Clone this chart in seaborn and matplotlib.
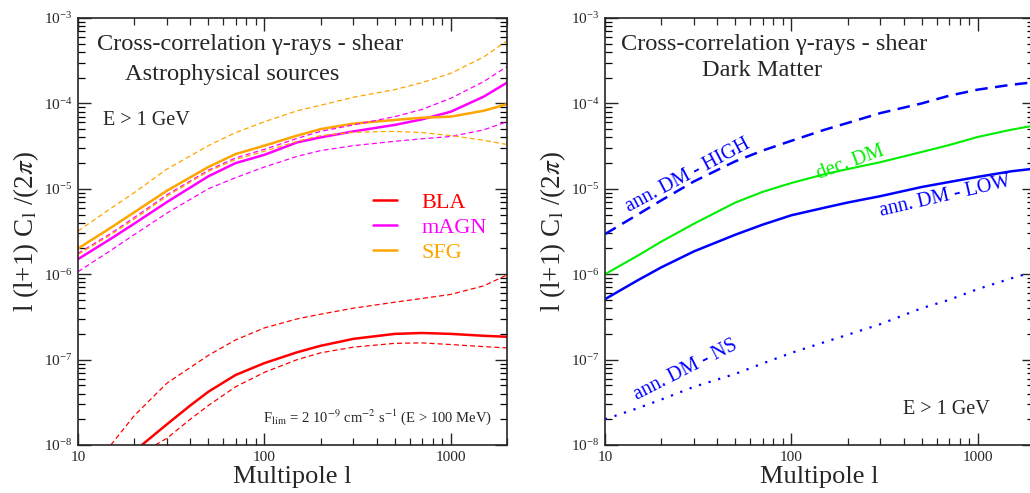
import numpy as np
import pandas as pd
import matplotlib
matplotlib.use("Agg")
import matplotlib.pyplot as plt
import matplotlib.ticker as mticker
import seaborn as sns

# multipoles used for most curves
ell = [10, 15, 20, 30, 50, 70, 100, 150, 200, 300, 500, 700, 1000, 1500, 2000]

# left panel: astrophysical sources (solid = best fit, dashed = band)
sfg = [2.0e-6, 3.5e-6, 5.3e-6, 9.5e-6, 1.8e-5, 2.55e-5, 3.2e-5, 4.2e-5, 5.0e-5, 5.8e-5, 6.4e-5, 6.8e-5, 7.0e-5, 8.2e-5, 9.8e-5]
sfg_hi = [3.2e-6, 5.9e-6, 9.0e-6, 1.7e-5, 3.2e-5, 4.55e-5, 6.1e-5, 8.2e-5, 9.5e-5, 1.18e-4, 1.45e-4, 1.75e-4, 2.25e-4, 3.5e-4, 5.4e-4]
sfg_lo = [1.7e-6, 2.9e-6, 4.4e-6, 8.2e-6, 1.6e-5, 2.2e-5, 2.75e-5, 3.6e-5, 4.2e-5, 4.6e-5, 4.7e-5, 4.55e-5, 4.2e-5, 3.7e-5, 3.3e-5]
magn = [1.5e-6, 2.6e-6, 3.9e-6, 7.0e-6, 1.4e-5, 2.0e-5, 2.5e-5, 3.5e-5, 4.0e-5, 4.7e-5, 5.6e-5, 6.5e-5, 8.0e-5, 1.2e-4, 1.75e-4]
magn_hi = [1.75e-6, 3.0e-6, 4.6e-6, 8.5e-6, 1.65e-5, 2.3e-5, 2.9e-5, 3.9e-5, 4.7e-5, 5.6e-5, 7.0e-5, 8.5e-5, 1.15e-4, 1.8e-4, 2.7e-4]
magn_lo = [1.07e-6, 1.9e-6, 2.9e-6, 5.2e-6, 1.0e-5, 1.35e-5, 1.8e-5, 2.4e-5, 2.8e-5, 3.2e-5, 3.6e-5, 3.85e-5, 4.1e-5, 4.9e-5, 6.1e-5]

ell_bla = [22, 30, 40, 50, 70, 100, 150, 200, 300, 500, 700, 1000, 1500, 2000]
bla = [1.0e-8, 1.75e-8, 2.9e-8, 4.2e-8, 6.6e-8, 9.1e-8, 1.22e-7, 1.45e-7, 1.75e-7, 2.0e-7, 2.05e-7, 2.0e-7, 1.9e-7, 1.85e-7]
ell_bla_hi = [15, 20, 30, 50, 70, 100, 150, 200, 300, 500, 700, 1000, 1500, 2000]
bla_hi = [1.0e-8, 2.2e-8, 5.3e-8, 1.12e-7, 1.7e-7, 2.35e-7, 3.0e-7, 3.4e-7, 4.0e-7, 4.7e-7, 5.2e-7, 5.8e-7, 7.3e-7, 9.8e-7]
ell_bla_lo = [26, 30, 40, 50, 70, 100, 150, 200, 300, 500, 700, 1000, 1500, 2000]
bla_lo = [1.0e-8, 1.2e-8, 2.0e-8, 2.9e-8, 4.8e-8, 7.1e-8, 1.0e-7, 1.2e-7, 1.4e-7, 1.55e-7, 1.57e-7, 1.5e-7, 1.42e-7, 1.37e-7]

# right panel: dark matter
dm_high = [2.95e-6, 5.0e-6, 7.3e-6, 1.22e-5, 2.1e-5, 2.8e-5, 3.65e-5, 4.9e-5, 5.9e-5, 7.7e-5, 1.0e-4, 1.23e-4, 1.45e-4, 1.65e-4, 1.77e-4]
dm_dec = [1.0e-6, 1.65e-6, 2.4e-6, 3.9e-6, 6.9e-6, 9.2e-6, 1.17e-5, 1.48e-5, 1.7e-5, 2.05e-5, 2.7e-5, 3.25e-5, 4.05e-5, 4.9e-5, 5.5e-5]
dm_low = [5.1e-7, 8.5e-7, 1.2e-6, 1.85e-6, 2.9e-6, 3.8e-6, 4.9e-6, 6.0e-6, 6.9e-6, 8.2e-6, 1.05e-5, 1.2e-5, 1.38e-5, 1.6e-5, 1.72e-5]
dm_ns = [2.0e-8, 2.7e-8, 3.4e-8, 4.8e-8, 6.8e-8, 9.0e-8, 1.2e-7, 1.6e-7, 1.95e-7, 2.6e-7, 4.0e-7, 5.0e-7, 6.7e-7, 8.9e-7, 1.07e-6]

sns.set_style("ticks")
plt.rcParams['font.family'] = ['Liberation Serif', 'DejaVu Serif']
plt.rcParams['mathtext.fontset'] = 'stix'

RED, MAG, ORA = '#ff0000', '#ff00ff', '#ffa500'
BLUE, GREEN = '#0000ff', '#00ee00'
short_dash = (0, (4, 2.5))

fig = plt.figure(figsize=(10.30, 4.93), dpi=100)
W, H = 1030, 493
ax1 = fig.add_axes([78 / W, 48 / H, 429 / W, 427 / H])
ax2 = fig.add_axes([605 / W, 48 / H, 429 / W, 427 / H])

# ---- left panel
sns.lineplot(x=ell_bla, y=bla, ax=ax1, color=RED, lw=1.8, label='BLA')
sns.lineplot(x=ell, y=magn, ax=ax1, color=MAG, lw=1.8, label='mAGN')
sns.lineplot(x=ell, y=sfg, ax=ax1, color=ORA, lw=1.8, label='SFG')
for xs, ys, c in [(ell_bla_hi, bla_hi, RED), (ell_bla_lo, bla_lo, RED),
                  (ell, magn_hi, MAG), (ell, magn_lo, MAG),
                  (ell, sfg_hi, ORA), (ell, sfg_lo, ORA)]:
    ax1.plot(xs, ys, color=c, lw=0.9, ls=short_dash)

ax1.text(0.401, 0.937, "Cross-correlation γ-rays - shear", transform=ax1.transAxes,
         ha='center', va='center', fontsize=17.6)
ax1.text(0.359, 0.867, "Astrophysical sources", transform=ax1.transAxes,
         ha='center', va='center', fontsize=17.6)
ax1.text(0.058, 0.761, "E > 1 GeV", transform=ax1.transAxes,
         ha='left', va='center', fontsize=14.5)
ax1.text(0.965, 0.066, r"F$_\mathrm{lim}$ = 2 10$^{-9}$ cm$^{-2}$ s$^{-1}$ (E > 100 MeV)",
         transform=ax1.transAxes, ha='right', va='center', fontsize=10.5)
leg = ax1.legend(loc='upper left', bbox_to_anchor=(0.64, 0.638), frameon=False,
                 fontsize=16, handlelength=1.1, handletextpad=1.1, labelspacing=0.2,
                 labelcolor='linecolor')

# ---- right panel
ax2.plot(ell, dm_high, color=BLUE, lw=1.8, ls=(0, (5, 3)))
sns.lineplot(x=ell, y=dm_dec, ax=ax2, color=GREEN, lw=1.5)
sns.lineplot(x=ell, y=dm_low, ax=ax2, color=BLUE, lw=1.8)
ax2.plot(ell, dm_ns, color=BLUE, lw=1.6, ls=(0, (1, 3.5)))

ax2.text(0.394, 0.937, "Cross-correlation γ-rays - shear", transform=ax2.transAxes,
         ha='center', va='center', fontsize=17.6)
ax2.text(0.367, 0.878, "Dark Matter", transform=ax2.transAxes,
         ha='center', va='center', fontsize=17.6)
ax2.text(0.898, 0.082, "E > 1 GeV", transform=ax2.transAxes,
         ha='right', va='center', fontsize=14.5)
for s, xf, yf, ang in [("ann. DM - HIGH", 688, 176, 28),
                       ("dec. DM", 851, 163, 20),
                       ("ann. DM - LOW", 945, 197, 13),
                       ("ann. DM - NS", 686, 370, 27)]:
    col = GREEN if s.startswith("dec") else BLUE
    ax2.text((xf - 605) / 429, (445 - yf) / 427, s, transform=ax2.transAxes,
             ha='center', va='center', rotation=ang, color=col, fontsize=14.5)

minor_y = [m * 10.0 ** e for e in range(-8, -3) for m in range(2, 10)]
minor_x = [m * 10.0 ** e for e in range(1, 4) for m in range(2, 10)]
for ax in (ax1, ax2):
    ax.set_xscale('log')
    ax.set_yscale('log')
    ax.set_xlim(10, 2000)
    ax.set_ylim(1e-8, 1e-3)
    ax.xaxis.set_major_locator(mticker.FixedLocator([10, 100, 1000]))
    ax.yaxis.set_major_locator(mticker.FixedLocator([1e-8, 1e-7, 1e-6, 1e-5, 1e-4, 1e-3]))
    ax.xaxis.set_minor_locator(mticker.FixedLocator(minor_x))
    ax.yaxis.set_minor_locator(mticker.FixedLocator(minor_y))
    ax.xaxis.set_minor_formatter(mticker.NullFormatter())
    ax.yaxis.set_minor_formatter(mticker.NullFormatter())
    ax.xaxis.set_major_formatter(mticker.FuncFormatter(lambda v, p: f"{v:g}"))
    ax.yaxis.set_major_formatter(mticker.LogFormatterSciNotation())
    ax.tick_params(which='both', direction='in', top=True, right=True, labelsize=11)
    ax.tick_params(which='major', length=9, width=1.0, pad=4)
    ax.tick_params(axis='x', which='minor', length=5, width=0.9)
    ax.tick_params(axis='y', which='minor', length=5, width=0.9, color='black',
                   left=True, right=True)
    for sp in ax.spines.values():
        sp.set_linewidth(1.2)
        sp.set_visible(True)
    ax.set_xlabel("Multipole l", fontsize=19, labelpad=2)
    ax.set_ylabel(r"l (l+1) C$_\mathrm{l}$ /(2$\pi$)", fontsize=19.5, labelpad=2)

fig.savefig("out.png", dpi=100)
